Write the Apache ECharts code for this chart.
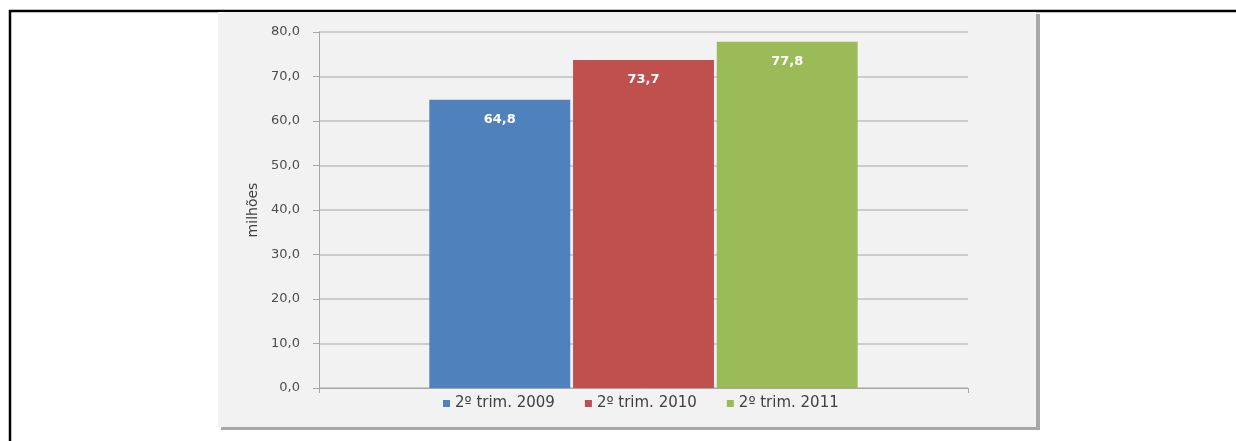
<!DOCTYPE html>
<html>
<head>
<meta charset="utf-8">
<script src="https://cdn.jsdelivr.net/npm/echarts@6/dist/echarts.min.js"></script>
<style>
html,body{margin:0;padding:0;background:#fff;overflow:hidden;}
#c{width:1236px;height:441px;}
</style>
</head>
<body>
<div id="c"></div>
<script>
var categories = [''];
var seriesNames = ['2º trim. 2009', '2º trim. 2010', '2º trim. 2011'];
var seriesValues = [[64.8], [73.7], [77.8]];
var seriesColors = ['#4f81bd', '#c0504d', '#9bbb59'];
var yTicks = [0, 10, 20, 30, 40, 50, 60, 70, 80];

var chart = echarts.init(document.getElementById('c'), null, {renderer: 'canvas'});
var fmt = function (v) { return v.toFixed(1).replace('.', ','); };
var FONT = 'DejaVu Sans';

var series = seriesNames.map(function (n, i) {
  return {
    name: n,
    type: 'bar',
    data: seriesValues[i],
    barGap: '2%',
    barCategoryGap: '34%',
    itemStyle: {color: seriesColors[i]},
    label: {
      show: true,
      position: 'insideTop',
      distance: 13,
      color: '#ffffff',
      fontWeight: 'bold',
      fontSize: 13,
      fontFamily: FONT,
      formatter: function (p) { return fmt(p.value); }
    },
    z: 3
  };
});

chart.setOption({
  animation: false,
  graphic: [
    {type: 'rect', shape: {x: 10, y: 11, width: 1400, height: 600}, style: {fill: '#fff', stroke: '#000', lineWidth: 2.5}, z: -10, silent: true},
    {type: 'rect', shape: {x: 221, y: 14, width: 819, height: 416}, style: {fill: '#a8a8a8'}, z: -9, silent: true},
    {type: 'rect', shape: {x: 218, y: 12, width: 818, height: 415}, style: {fill: '#f2f2f2'}, z: -8, silent: true}
  ],
  grid: {left: 319, right: 268, top: 32, bottom: 53},
  legend: {
    data: seriesNames,
    left: 438,
    top: 391,
    itemWidth: 7,
    itemHeight: 7,
    itemGap: 30,
    icon: 'rect',
    textStyle: {color: '#404040', fontSize: 15, fontFamily: FONT}
  },
  xAxis: {
    type: 'category',
    data: categories,
    axisLine: {show: true, lineStyle: {color: '#a6a6a6', width: 1}},
    axisTick: {show: true, length: 5, lineStyle: {color: '#a6a6a6'}},
    axisLabel: {show: false}
  },
  yAxis: {
    type: 'value',
    min: yTicks[0],
    max: yTicks[yTicks.length - 1],
    interval: 10,
    name: 'milhões',
    nameLocation: 'middle',
    nameRotate: 90,
    nameGap: 59,
    nameTextStyle: {color: '#404040', fontSize: 14, fontFamily: FONT},
    axisLine: {show: true, lineStyle: {color: '#a6a6a6', width: 1}},
    axisTick: {show: true, length: 6, lineStyle: {color: '#a6a6a6'}},
    axisLabel: {color: '#4d4d4d', fontSize: 13, fontFamily: FONT, margin: 19, formatter: fmt},
    splitLine: {show: true, lineStyle: {color: '#bfbfbf', width: 1.5}}
  },
  series: series
});
</script>
</body>
</html>
